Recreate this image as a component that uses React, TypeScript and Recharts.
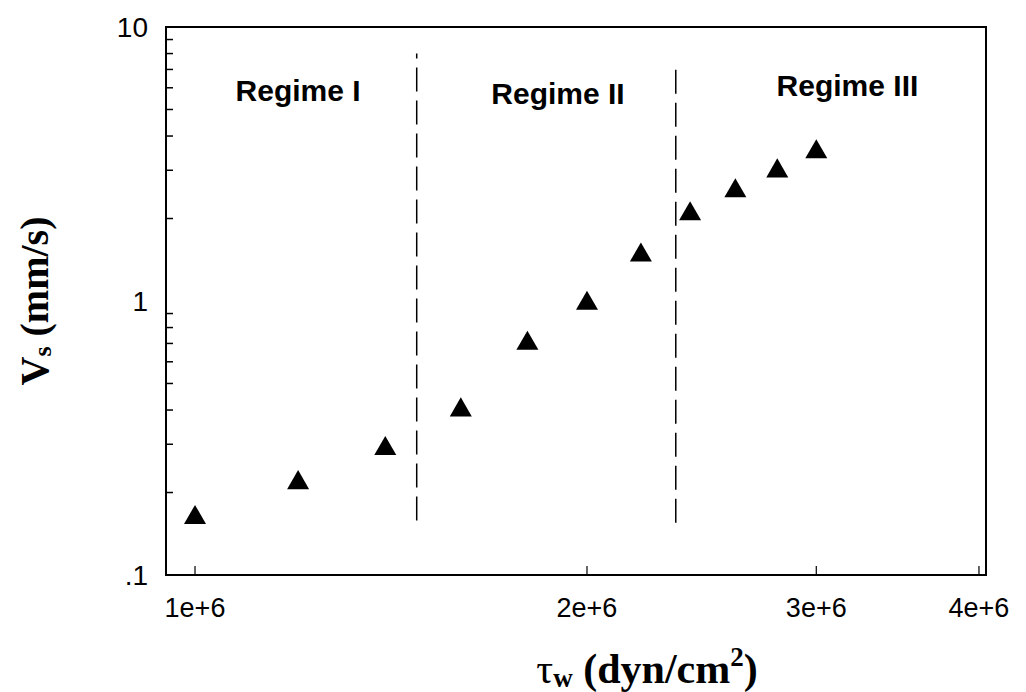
import {
  ReferenceArea,
  ReferenceDot,
  ReferenceLine,
  Scatter,
  ScatterChart,
  Symbols,
  XAxis,
  YAxis,
} from 'recharts'

// wall shear stress (dyn/cm^2) and slip velocity (mm/s)
const shear = [1.0e6, 1.2e6, 1.4e6, 1.6e6, 1.8e6, 2.0e6, 2.2e6, 2.4e6, 2.6e6, 2.8e6, 3.0e6]
const velocity = [0.162, 0.217, 0.289, 0.4, 0.7, 0.98, 1.47, 2.08, 2.52, 2.98, 3.5]

const xTicks = [1e6, 2e6, 3e6, 4e6]
const xTickLabels = ['1e+6', '2e+6', '3e+6', '4e+6']
const yMajor = [0.1, 1, 10]
const yMajorLabels = ['.1', '1', '10']
const yMinor = [0.2, 0.3, 0.4, 0.5, 0.6, 0.7, 0.8, 0.9, 2, 3, 4, 5, 6, 7, 8, 9]

const xDomain: [number, number] = [0.95e6, 4.05e6]
const yDomain: [number, number] = [0.1, 10]

// regime boundaries: [shear, bottom, top]
const boundaries = [
  [1.48e6, 0.158, 8.0],
  [2.34e6, 0.155, 7.5],
]
const regimes = [
  { name: 'Regime I', x: 1.2e6, y: 5.85 },
  { name: 'Regime II', x: 1.9e6, y: 5.75 },
  { name: 'Regime III', x: 3.17e6, y: 6.1 },
]

const data = shear.map((x, i) => ({ x, v: velocity[i] }))

const SANS = '"Liberation Sans", Arial, sans-serif'
const SERIF = '"Liberation Serif", "Times New Roman", serif'

function XTick(props: any) {
  const { x, y, payload } = props
  const i = xTicks.indexOf(payload.value)
  const axisY = y - 22
  return (
    <g>
      <line x1={x} x2={x} y1={axisY} y2={axisY - 9} stroke="#000" strokeWidth={1.2} />
      <text x={x} y={y + 20} textAnchor="middle" fontFamily={SANS} fontSize={27} fill="#000">
        {i >= 0 ? xTickLabels[i] : ''}
      </text>
    </g>
  )
}

function YTick(props: any) {
  const { x, y, payload } = props
  const i = yMajor.indexOf(payload.value)
  const axisX = x + 18
  return (
    <g>
      {i < 0 && (
        <line x1={axisX} x2={axisX + 7} y1={y} y2={y} stroke="#000" strokeWidth={1.5} />
      )}
      {i >= 0 && (
        <text x={x} y={y} dy="0.36em" textAnchor="end" fontFamily={SANS} fontSize={28} fill="#000">
          {yMajorLabels[i]}
        </text>
      )}
    </g>
  )
}

function YTitle(props: any) {
  const { viewBox } = props
  const cy = viewBox.y + viewBox.height / 2
  return (
    <text
      transform={`translate(48, ${cy}) rotate(-90)`}
      textAnchor="middle"
      fontFamily={SERIF}
      fontWeight="bold"
      fontSize={40}
      fill="#000"
    >
      V
      <tspan fontSize={26} dy={3}>s</tspan>
      <tspan dy={-3}> (mm/s)</tspan>
    </text>
  )
}

function XTitle(props: any) {
  const { viewBox } = props
  return (
    <text
      x={viewBox.x + 481}
      y={viewBox.y + 108}
      textAnchor="middle"
      fontFamily={SERIF}
      fontWeight="bold"
      fontSize={42}
      fill="#000"
    >
      <tspan fontWeight="normal">τ</tspan>
      <tspan fontSize={27} dy={4}>w</tspan>
      <tspan dy={-4}> (dyn/cm</tspan>
      <tspan fontSize={27} dy={-17}>2</tspan>
      <tspan dy={17}>)</tspan>
    </text>
  )
}

function Triangle(props: any) {
  return <Symbols cx={props.cx} cy={props.cy} type="triangle" size={210} fill="#000" />
}

export default function App() {
  return (
    <div style={{ position: 'absolute', left: 0, top: 0, background: '#fff' }}>
      <ScatterChart width={1026} height={692} margin={{ top: 27, right: 40, left: 0, bottom: 0 }}>
        <XAxis
          type="number"
          dataKey="x"
          scale="log"
          domain={xDomain}
          ticks={xTicks}
          allowDataOverflow
          axisLine={false}
          tickLine={false}
          tickSize={0}
          tickMargin={22}
          height={117}
          tick={<XTick />}
          label={<XTitle />}
        />
        <YAxis
          type="number"
          dataKey="v"
          scale="log"
          domain={yDomain}
          ticks={[...yMajor, ...yMinor]}
          allowDataOverflow
          axisLine={false}
          tickLine={false}
          tickSize={0}
          tickMargin={18}
          width={166}
          interval={0}
          tick={<YTick />}
          label={<YTitle />}
        />
        <ReferenceArea
          x1={xDomain[0]}
          x2={xDomain[1]}
          y1={yDomain[0]}
          y2={yDomain[1]}
          fill="none"
          stroke="#000"
          strokeWidth={2}
        />
        {boundaries.map(([bx, lo, hi]) => (
          <ReferenceLine
            key={bx}
            segment={[
              { x: bx, y: lo },
              { x: bx, y: hi },
            ]}
            stroke="#000"
            strokeWidth={1.5}
            strokeDasharray="24 9"
          />
        ))}
        {regimes.map((r) => (
          <ReferenceDot
            key={r.name}
            x={r.x}
            y={r.y}
            r={0}
            fill="none"
            stroke="none"
            label={{
              value: r.name,
              position: 'center',
              fontFamily: SANS,
              fontWeight: 'bold',
              fontSize: 30,
              fill: '#000',
            }}
          />
        ))}
        <Scatter data={data} shape={<Triangle />} fill="#000" isAnimationActive={false} />
      </ScatterChart>
    </div>
  )
}
